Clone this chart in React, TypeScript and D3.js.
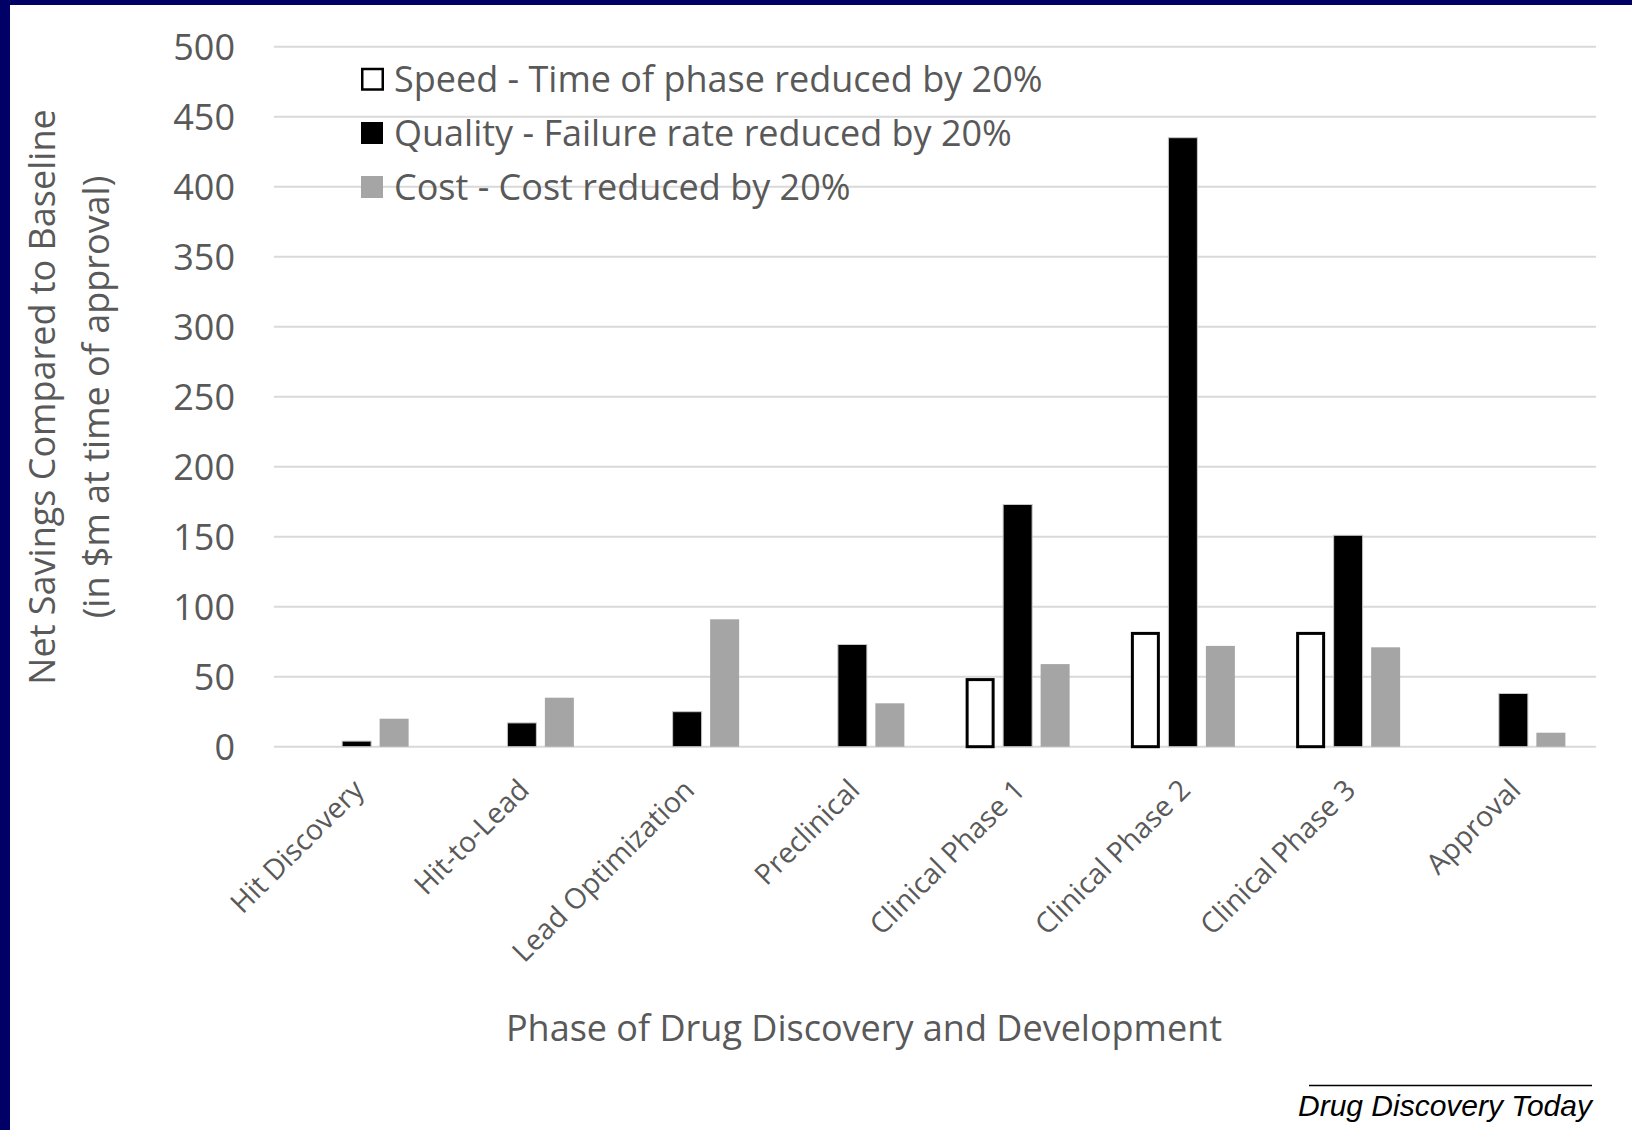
import { useEffect, useRef } from "react"
import * as d3 from "d3"

const categories = [
  "Hit Discovery",
  "Hit-to-Lead",
  "Lead Optimization",
  "Preclinical",
  "Clinical Phase 1",
  "Clinical Phase 2",
  "Clinical Phase 3",
  "Approval",
]

const seriesNames = [
  "Speed - Time of phase reduced by 20%",
  "Quality - Failure rate reduced by 20%",
  "Cost - Cost reduced by 20%",
]

const speedValues = [0, 0, 0, 0, 49, 82, 82, 0]
const qualityValues = [4, 17, 25, 73, 173, 435, 151, 38]
const costValues = [20, 35, 91, 31, 59, 72, 71, 10]

const yTicks = [0, 50, 100, 150, 200, 250, 300, 350, 400, 450, 500]

const FONT = "'Open Sans', sans-serif"
const TEXT = "#595959"

export default function App() {
  const svgRef = useRef<SVGSVGElement>(null)

  useEffect(() => {
    const node = svgRef.current
    if (!node || node.childElementCount > 0) return

    const W = 1632
    const H = 1130
    const left = 274
    const right = 1596
    const top = 46.7
    const bottom = 746.7

    const svg = d3.select(node)

    svg.append("rect").attr("width", W).attr("height", H).attr("fill", "#fff")

    // navy frame (top + left only)
    svg.append("rect").attr("x", 0).attr("y", 0).attr("width", W).attr("height", 5).attr("fill", "#000066")
    svg.append("rect").attr("x", 0).attr("y", 0).attr("width", 10).attr("height", H).attr("fill", "#000066")

    const x0 = d3.scaleBand<string>().domain(categories).range([left, right]).padding(0)
    const x1 = d3
      .scaleBand<number>()
      .domain([0, 1, 2])
      .range([0, 104])
      .paddingInner(0.2267)
      .paddingOuter(0)
    const offset = (x0.bandwidth() - 104) / 2
    const y = d3.scaleLinear().domain([0, 500]).range([bottom, top])

    // grid
    svg
      .append("g")
      .selectAll("line")
      .data(yTicks)
      .enter()
      .append("line")
      .attr("x1", left)
      .attr("x2", right)
      .attr("y1", (d) => y(d))
      .attr("y2", (d) => y(d))
      .attr("stroke", "#d9d9d9")
      .attr("stroke-width", 2)

    svg
      .append("g")
      .selectAll("text")
      .data(yTicks)
      .enter()
      .append("text")
      .attr("x", 235)
      .attr("y", (d) => y(d))
      .attr("dy", "0.36em")
      .attr("text-anchor", "end")
      .attr("font-family", FONT)
      .attr("font-size", 36)
      .attr("fill", TEXT)
      .text((d) => d)

    const rows = categories.map((c, i) => ({
      cat: c,
      vals: [speedValues[i], qualityValues[i], costValues[i]],
    }))

    const groups = svg
      .append("g")
      .selectAll("g")
      .data(rows)
      .enter()
      .append("g")
      .attr("transform", (d) => `translate(${(x0(d.cat) || 0) + offset},0)`)

    groups
      .selectAll("rect")
      .data((d) => d.vals.map((v, s) => ({ v, s })).filter((e) => e.v > 0))
      .enter()
      .append("rect")
      .attr("x", (d) => (x1(d.s) || 0) + (d.s === 0 ? 1.5 : 0))
      .attr("width", (d) => x1.bandwidth() - (d.s === 0 ? 3 : 0))
      .attr("y", (d) => y(d.v) + (d.s === 0 ? 1.5 : 0))
      .attr("height", (d) => y(0) - y(d.v) - (d.s === 0 ? 1.5 : 0))
      .attr("fill", (d) => ["#ffffff", "#000000", "#a5a5a5"][d.s])
      .attr("stroke", (d) => ["#000000", "#c8c8c8", "none"][d.s])
      .attr("stroke-width", (d) => (d.s === 0 ? 3 : 1))

    // category labels
    svg
      .append("g")
      .selectAll("text")
      .data(categories)
      .enter()
      .append("text")
      .attr("transform", (d) => `translate(${(x0(d) || 0) + x0.bandwidth() / 2 + 2},${bottom + 38}) rotate(-45)`)
      .attr("dy", "0.35em")
      .attr("text-anchor", "end")
      .attr("font-family", FONT)
      .attr("font-size", 28.5)
      .attr("fill", TEXT)
      .text((d) => d)

    // axis titles
    svg
      .append("text")
      .attr("x", 864)
      .attr("y", 1041)
      .attr("text-anchor", "middle")
      .attr("font-family", FONT)
      .attr("font-size", 36)
      .attr("fill", TEXT)
      .text("Phase of Drug Discovery and Development")

    const yTitle = ["Net Savings Compared to Baseline", "(in $m at time of approval)"]
    svg
      .append("g")
      .selectAll("text")
      .data(yTitle)
      .enter()
      .append("text")
      .attr("transform", (d, i) => `translate(${i === 0 ? 42 : 96},397) rotate(-90)`)
      .attr("dy", "0.35em")
      .attr("text-anchor", "middle")
      .attr("font-family", FONT)
      .attr("font-size", 36)
      .attr("fill", TEXT)
      .text((d) => d)

    // legend
    const legend = svg
      .append("g")
      .selectAll("g")
      .data(seriesNames)
      .enter()
      .append("g")
      .attr("transform", (d, i) => `translate(361,${79 + i * 54})`)

    legend
      .append("rect")
      .attr("x", (d, i) => (i === 0 ? 1.25 : 0))
      .attr("y", (d, i) => (i === 0 ? -10 : -11))
      .attr("width", (d, i) => (i === 0 ? 20.5 : 22))
      .attr("height", (d, i) => (i === 0 ? 20.5 : 22))
      .attr("fill", (d, i) => ["#ffffff", "#000000", "#a5a5a5"][i])
      .attr("stroke", (d, i) => (i === 0 ? "#000" : "none"))
      .attr("stroke-width", 2.5)

    legend
      .append("text")
      .attr("x", 33)
      .attr("dy", "0.36em")
      .attr("font-family", FONT)
      .attr("font-size", 36)
      .attr("fill", TEXT)
      .text((d) => d)

    // source
    svg
      .append("line")
      .attr("x1", 1309)
      .attr("x2", 1592)
      .attr("y1", 1085.5)
      .attr("y2", 1085.5)
      .attr("stroke", "#000")
      .attr("stroke-width", 1.5)

    svg
      .append("text")
      .attr("x", 1592)
      .attr("y", 1116)
      .attr("text-anchor", "end")
      .attr("font-family", "'Liberation Sans', Arial, sans-serif")
      .attr("font-style", "italic")
      .attr("font-size", 30)
      .attr("fill", "#000")
      .text("Drug Discovery Today")
  }, [])

  return (
    <div style={{ position: "absolute", left: 0, top: 0 }}>
      <svg ref={svgRef} width={1632} height={1130} style={{ display: "block" }} />
    </div>
  )
}
